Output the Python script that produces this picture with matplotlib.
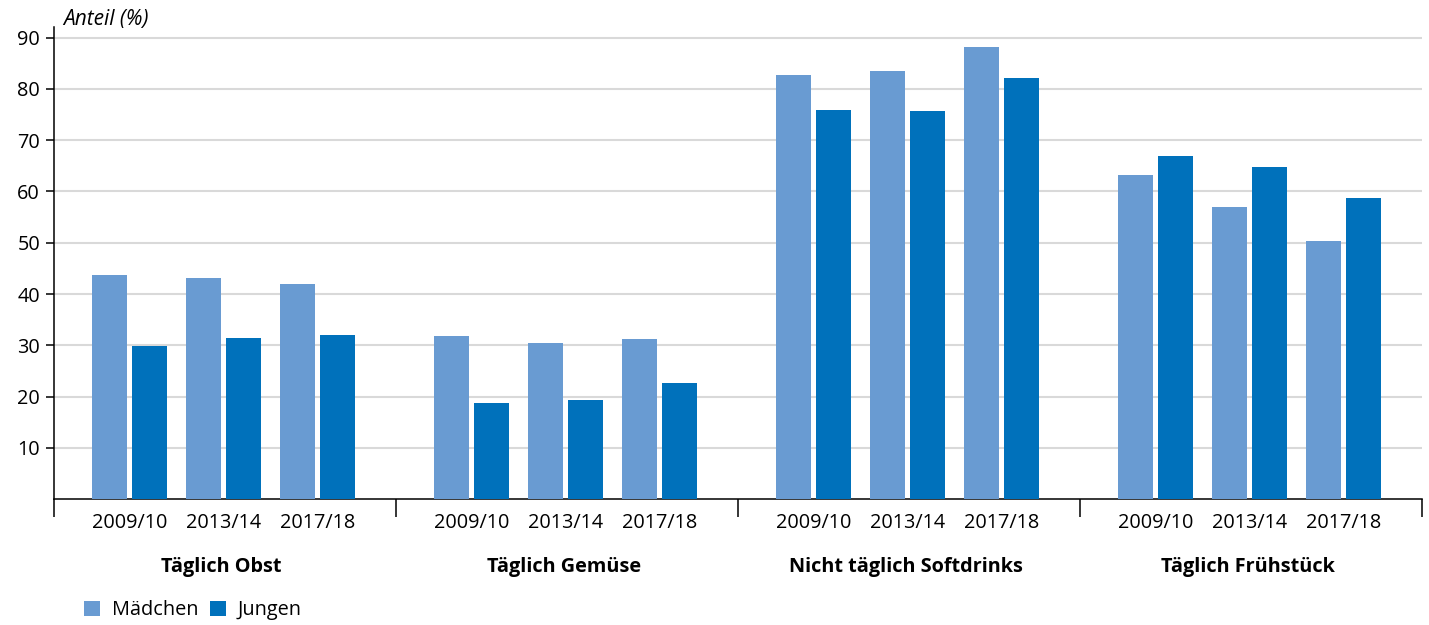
import numpy as np
import matplotlib
matplotlib.use("Agg")
import matplotlib.pyplot as plt
import matplotlib.transforms as mtransforms

# data
groups = ["Täglich Obst", "Täglich Gemüse", "Nicht täglich Softdrinks", "Täglich Frühstück"]
years = ["2009/10", "2013/14", "2017/18"]
maedchen = [43.7, 43.1, 42.0,
            31.9, 30.5, 31.2,
            82.7, 83.5, 88.2,
            63.2, 57.0, 50.4]
jungen = [29.9, 31.4, 32.0,
          18.8, 19.4, 22.7,
          75.9, 75.7, 82.1,
          66.9, 64.8, 58.8]

c_m = "#699BD2"
c_j = "#0071BB"

plt.rcParams["font.family"] = ["Open Sans", "DejaVu Sans"]
fs = 14.3

fig = plt.figure(figsize=(14.29, 6.25), dpi=100)
ax = fig.add_axes([54/1429, 1-499.3/625, (1422-54)/1429, (499.3-27.3)/625])

pair_off = np.array([0.22, 0.495, 0.77])
centers = np.concatenate([g + pair_off for g in range(len(groups))])
bw = 0.102
gap = 0.015

ax.bar(centers - (bw+gap)/2, maedchen, width=bw, color=c_m, label="Mädchen", zorder=3)
ax.bar(centers + (bw+gap)/2, jungen, width=bw, color=c_j, label="Jungen", zorder=3)

ax.set_xlim(0, 4)
ax.set_ylim(0, 92)
ax.set_yticks(range(10, 100, 10))
ax.yaxis.grid(True, color="#D9D9D9", lw=1.5, zorder=0)
for s in ["top", "right"]:
    ax.spines[s].set_visible(False)
ax.spines["left"].set_linewidth(1.1)
ax.spines["bottom"].set_linewidth(1.1)
ax.tick_params(axis="y", length=6, width=1.1, labelsize=fs, pad=4)

ax.set_xticks(range(5))
ax.set_xticklabels([])
ax.tick_params(axis="x", which="major", length=13, width=1.1, direction="out")
ax.set_xticks(centers, minor=True)
ax.set_xticklabels(years * len(groups), minor=True)
ax.tick_params(axis="x", which="minor", length=0, labelsize=fs, pad=10)

trans = mtransforms.blended_transform_factory(ax.transData, fig.transFigure)
for i, g in enumerate(groups):
    ax.text(i + 0.49, 1-567/625, g, transform=trans, ha="center", va="center",
            fontsize=fs, fontweight="bold")

fig.text(63/1429, 1-20/625, "Anteil (%)", fontsize=15, style="italic",
         ha="left", va="center")

fig.legend(loc="center left", bbox_to_anchor=(76/1429, 1-610/625), ncol=2,
           frameon=False, fontsize=fs, handlelength=0.8, handleheight=0.8,
           handletextpad=0.6, columnspacing=0.6, borderaxespad=0)

fig.savefig("out.png", dpi=100)
